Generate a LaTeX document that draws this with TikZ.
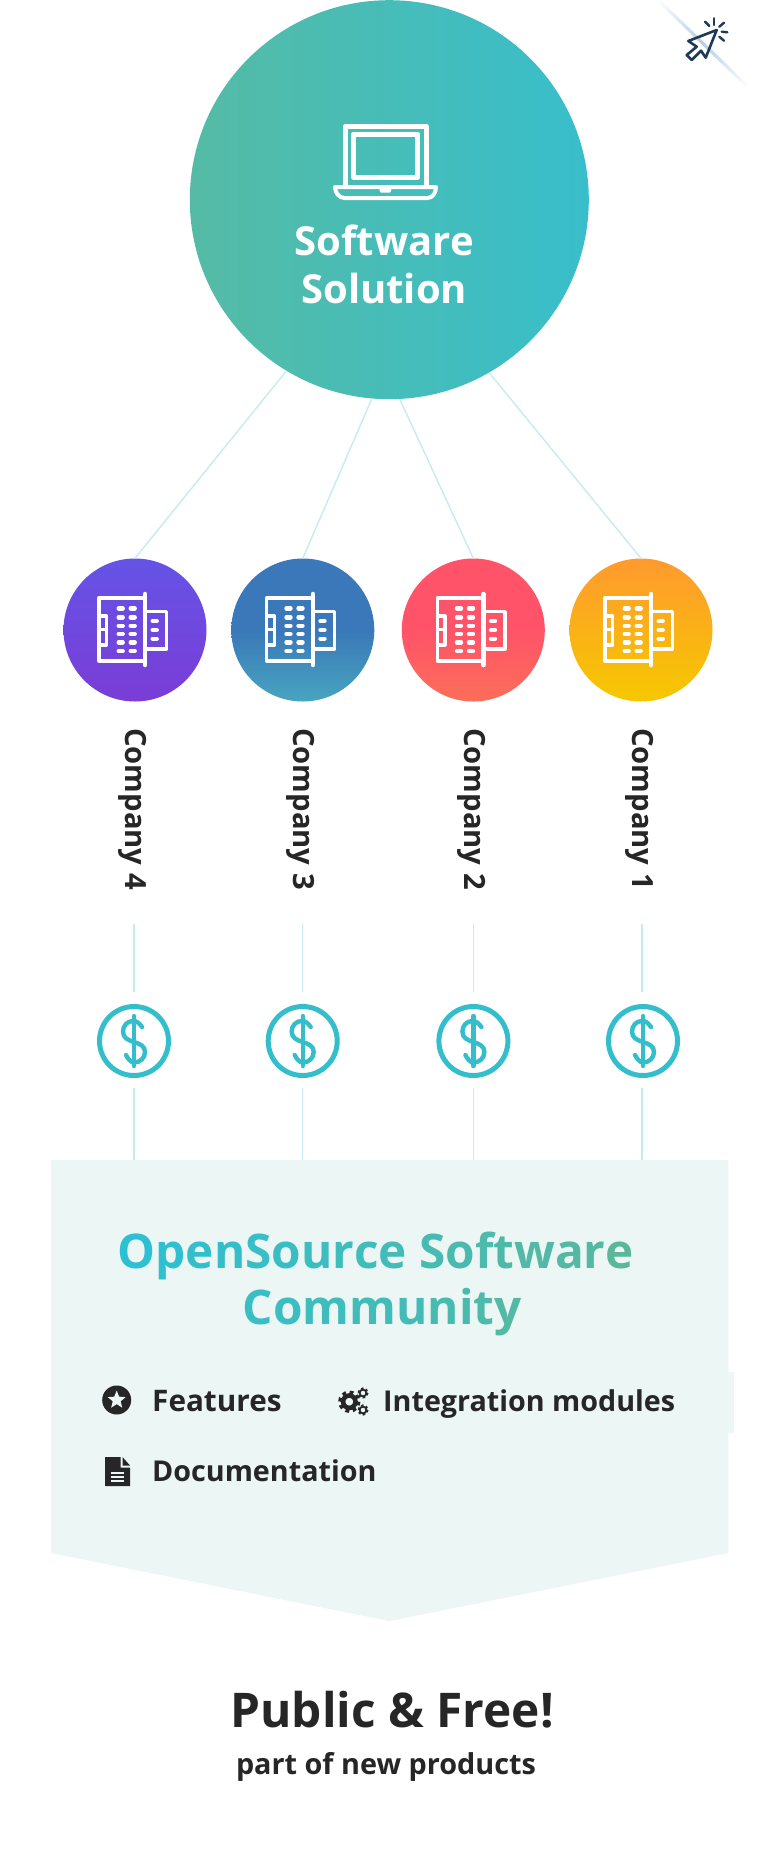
\documentclass[tikz,border=0pt]{standalone}
\usepackage{fontspec}
\setmainfont{Open Sans}[BoldFont={Open Sans Bold}]
\usetikzlibrary{shapes.geometric}
\definecolor{inkdark}{HTML}{262626}
\definecolor{linec}{HTML}{C6ECEF}
\definecolor{boxc}{HTML}{ECF6F5}
\definecolor{bumpc}{HTML}{EEF7F6}
\definecolor{tealc}{HTML}{34BECC}
\definecolor{gcyan}{HTML}{2DC0D2}
\definecolor{ggreen}{HTML}{5BB79A}
\definecolor{navy}{HTML}{1F3A57}
\definecolor{markc}{HTML}{B4CFE6}
\definecolor{bigl}{HTML}{55BBA5}
\definecolor{bigr}{HTML}{38BECB}
\definecolor{pu1}{HTML}{6553E6}
\definecolor{pu2}{HTML}{7A3DD6}
\definecolor{bl1}{HTML}{3A78B9}
\definecolor{bl2}{HTML}{47A5BF}
\definecolor{re1}{HTML}{FF5369}
\definecolor{re2}{HTML}{FC6E58}
\definecolor{or1}{HTML}{FF9A2E}
\definecolor{or2}{HTML}{F6C800}
\newcommand{\gl}[2]{{\color{ggreen!#1!gcyan}#2}}
\tikzset{
  x=1pt,y=-1pt,
  bigc/.style={circle,inner sep=0pt,minimum size=399pt,left color=bigl,right color=bigr},
  comp/.style={circle,inner sep=0pt,minimum size=143pt},
  complabel/.style={rotate=-90,anchor=base west,inner sep=0pt,text=inkdark,font=\fontsize{29.2}{32}\selectfont\bfseries},
  connector/.style={draw=linec,line width=1.4pt},
  doll/.style={circle,draw=tealc,line width=5pt,inner sep=0pt,minimum size=69pt},
  bodytext/.style={anchor=base west,inner sep=0pt,text=inkdark,font=\fontsize{28.7}{32}\selectfont\bfseries},
  titletext/.style={anchor=base,inner sep=0pt,font=\fontsize{47.7}{50}\selectfont\bfseries},
  building/.pic={
    \draw[white,line width=3.3pt,line join=round] (-36,-32) rectangle (10,31);
    \draw[white,line width=3.3pt,line join=round] (10,-18.3) -- (31.7,-18.3) -- (31.7,19) -- (10,19);
    \draw[white,line width=3.3pt,line join=round] (-36,-14) -- (-28.3,-14) -- (-28.3,15) -- (-36,15);
    \draw[white,line width=3pt] (-36,-0.7) -- (-28.3,-0.7);
    \draw[white,line width=4.5pt,line cap=round] (10,-36) -- (10,35);
    \foreach \yy in {-21.7,-12.7,-4.3,4,12.3,21}{
      \draw[white,line width=4.4pt,line cap=round] (-16.3,\yy) -- (-12.3,\yy);
      \draw[white,line width=4.4pt,line cap=round] (-4.3,\yy) -- (-0.3,\yy);
    }
    \foreach \yy in {-9,0,8.7}{
      \draw[white,line width=4.4pt,line cap=round] (17.7,\yy) -- (21.7,\yy);
    }
  },
  dollarsign/.pic={
    \draw[tealc,line width=4.4pt,line cap=round] (0,-25) -- (0,25);
    \draw[tealc,line width=4.4pt,line cap=round] (8,-14) .. controls (5,-18) and (3,-20) .. (-1,-20)
      .. controls (-7,-20) and (-11,-15) .. (-11,-9.5) .. controls (-11,-3) and (-6,-1) .. (0,1)
      .. controls (6,3) and (11,5) .. (11,11) .. controls (11,17) and (6,21.5) .. (0,21.5)
      .. controls (-3,21.5) and (-6,18) .. (-8,14);
  },
}
\begin{document}
\begin{tikzpicture}
\useasboundingbox (0,0) rectangle (768,1866);
\fill[white] (0,0) rectangle (768,1866);
% corner mark
\shade[shift={(702.5,43)},rotate=-44,left color=white,right color=white,middle color=markc]
   (-62,-1.6) rectangle (62,1.6);
\draw[navy,line width=2.6pt,line join=round] (716.7,30) -- (688.3,41) -- (696.7,46.7) -- (686.7,55) -- (691.7,60) -- (701,50.7) -- (705.7,57.7) -- cycle;
\foreach \ax/\ay/\bx/\by in {714/18.3/714/25, 705/21.7/709.3/26, 724/22.7/719.3/26.7, 721.7/31.7/727.3/32.3, 719.3/36.7/724/40.7}{
  \draw[navy,line width=2.4pt,line cap=round] (\ax,\ay) -- (\bx,\by);
}
% big circle
\node[bigc] (big) at (389.3,199.7) {};
% laptop
\draw[white,line width=5pt,line join=round] (345.2,185) -- (345.2,126.5) -- (426.2,126.5) -- (426.2,185);
\draw[white,line width=5pt,line join=round] (353.5,134) rectangle (417.8,177);
\draw[white,line width=4pt,line join=round] (335,187) -- (436,187) .. controls (436,193) and (432.5,198) .. (427.5,198) -- (344.5,198) .. controls (339.5,198) and (335,193) .. (335,187) -- cycle;
\fill[white,rounded corners=1.5pt] (379.5,187) rectangle (391.2,192.7);
\node[anchor=base,inner sep=0pt,text=white,font=\fontsize{40}{44}\selectfont\bfseries] (sw1) at (384.2,255.7) {Software};
\node[anchor=base,inner sep=0pt,text=white,font=\fontsize{40}{44}\selectfont\bfseries] (sw2) at (384.2,303) {Solution};
% companies
\node[comp,top color=pu1,bottom color=pu2] (c4) at (135,630) {};
\node[comp,top color=bl1,bottom color=bl2,middle color=bl1] (c3) at (302.8,630) {};
\node[comp,top color=re1,bottom color=re2,middle color=re1] (c2) at (473.3,630) {};
\node[comp,top color=or1,bottom color=or2] (c1) at (641,630) {};
\foreach \cc in {c4,c3,c2,c1}{ \pic at (\cc.center) {building}; }
\draw[connector] (big.239.7) -- (c4.north);
\draw[connector] (big.265.4) -- (c3.north);
\draw[connector] (big.273.7) -- (c2.north);
\draw[connector] (big.300.3) -- (c1.north);
\node[complabel] (l4) at (125.5,728) {Company 4};
\node[complabel] (l3) at (293.5,728) {Company 3};
\node[complabel] (l2) at (464.5,728) {Company 2};
\node[complabel] (l1) at (632.5,728) {Company 1};
% box
\fill[boxc] (51,1160) -- (728.3,1160) -- (728.3,1553) -- (389.5,1621) -- (51,1553) -- cycle;
\fill[bumpc] (728.3,1371.7) rectangle (734.3,1432.7);
% dollars and vertical connectors
\foreach \nm/\xx/\dx in {4/133.8/134,3/302.6/302.7,2/473.4/473.4,1/641.8/643}{
  \coordinate (ta\nm) at (\xx,924);
  \coordinate (tb\nm) at (\xx,992);
  \coordinate (ua\nm) at (\xx,1088);
  \coordinate (ub\nm) at (\xx,1160);
  \node[doll] (d\nm) at (\dx,1041) {};
  \pic at (d\nm.center) {dollarsign};
  \draw[connector] (ta\nm) -- (tb\nm);
  \draw[connector] (ua\nm) -- (ub\nm);
}
% title
\node[titletext] (t1) at (375.7,1268) {\gl{0}{O}\gl{5}{p}\gl{11}{e}\gl{16}{n}\gl{21}{S}\gl{27}{o}\gl{32}{u}\gl{37}{r}\gl{42}{c}\gl{47}{e}\ \gl{57}{S}\gl{63}{o}\gl{68}{f}\gl{73}{t}\gl{79}{w}\gl{85}{a}\gl{90}{r}\gl{100}{e}};
\node[titletext] (t2) at (382.3,1324) {\gl{25}{C}\gl{31}{o}\gl{37}{m}\gl{44}{m}\gl{51}{u}\gl{58}{n}\gl{65}{i}\gl{72}{t}\gl{80}{y}};
% feature list
\fill[inkdark] (116.7,1400) circle[radius=14.5];
\node[star,star points=5,star point ratio=2.3,fill=boxc,inner sep=0pt,minimum size=19pt] (starn) at (116.7,1400) {};
\node[bodytext,font=\fontsize{29.7}{32}\selectfont\bfseries] (f1) at (152,1411.5) {Features};
\foreach \gx/\gy/\rr/\wd/\tr/\tw/\dd in {349.3/1401.7/6.2/4.6/9.6/3.2/3.77, 363/1393/3.4/1.8/4.8/1.6/2.5, 363/1410/3.4/1.8/4.8/1.6/2.5}{
  \draw[inkdark,line width=\wd pt] (\gx,\gy) circle[radius=\rr];
  \draw[inkdark,line width=\tw pt,dash pattern=on \dd pt off \dd pt] (\gx,\gy) circle[radius=\tr];
}
\node[bodytext] (f2) at (383,1411.5) {Integration modules};
\fill[inkdark] (105,1457) -- (120.5,1457) -- (120.5,1467.5) -- (130,1467.5) -- (130,1486) -- (105,1486) -- cycle;
\fill[inkdark] (122.5,1457) -- (130,1465.5) -- (122.5,1465.5) -- cycle;
\foreach \yy in {1472.7,1476.8,1481}{ \draw[boxc,line width=2pt] (111,\yy) -- (124,\yy); }
\node[bodytext] (f3) at (152,1481.5) {Documentation};
% bottom
\node[anchor=base,inner sep=0pt,text=inkdark,font=\fontsize{47.8}{52}\selectfont\bfseries] (p1) at (392.2,1727) {Public \& Free!};
\node[anchor=base,inner sep=0pt,text=inkdark,font=\fontsize{28.8}{32}\selectfont\bfseries] (p2) at (386,1774) {part of new products};
\end{tikzpicture}
\end{document}
